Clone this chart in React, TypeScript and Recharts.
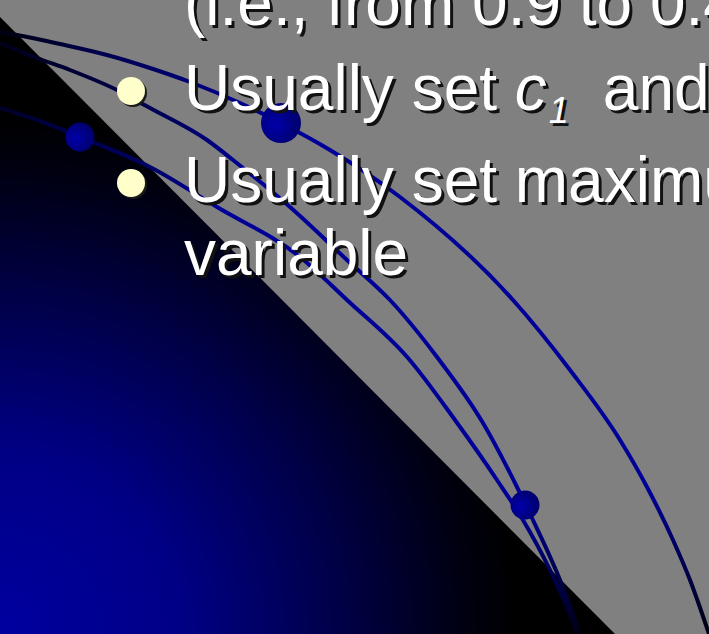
import React from "react";
import { ComposedChart, Line, Area, Scatter, XAxis, YAxis } from "recharts";

const W = 709;
const H = 634;

// lower-left slide corner: diagonal edge of the dark triangle
const cornerEdge = [
  { x: 0, y: 17 },
  { x: 615, y: 634 },
];

// decorative orbit curves (pixel coords, y down)
const curveA = [
  { x: 0, y: 32 },
  { x: 17, y: 35 },
  { x: 60, y: 44 },
  { x: 107, y: 55 },
  { x: 150, y: 68 },
  { x: 190, y: 82 },
  { x: 240, y: 103 },
  { x: 281, y: 123 },
  { x: 330, y: 150 },
  { x: 400, y: 197 },
  { x: 513, y: 300 },
  { x: 570, y: 370 },
  { x: 620, y: 440 },
  { x: 647, y: 487 },
  { x: 673, y: 540 },
  { x: 690, y: 580 },
  { x: 709, y: 634 },
];

const curveB = [
  { x: 0, y: 43 },
  { x: 37, y: 58 },
  { x: 70, y: 70 },
  { x: 117, y: 90 },
  { x: 150, y: 108 },
  { x: 207, y: 140 },
  { x: 233, y: 160 },
  { x: 290, y: 207 },
  { x: 347, y: 260 },
  { x: 390, y: 300 },
  { x: 437, y: 357 },
  { x: 483, y: 423 },
  { x: 517, y: 487 },
  { x: 532, y: 518 },
  { x: 560, y: 580 },
  { x: 580, y: 634 },
];

const curveC = [
  { x: 0, y: 108 },
  { x: 40, y: 121 },
  { x: 80, y: 137 },
  { x: 150, y: 167 },
  { x: 217, y: 207 },
  { x: 300, y: 257 },
  { x: 347, y: 300 },
  { x: 408, y: 358 },
  { x: 455, y: 420 },
  { x: 497, y: 480 },
  { x: 523, y: 520 },
  { x: 550, y: 570 },
  { x: 568, y: 610 },
  { x: 577, y: 634 },
];

const smallDots = [
  { x: 80, y: 137 },
  { x: 525, y: 505 },
];
const bigDot = [{ x: 281, y: 123 }];
const bullets = [
  { x: 131, y: 91 },
  { x: 131, y: 183 },
];

const textStyle: React.CSSProperties = {
  position: "absolute",
  left: 184,
  fontFamily: '"Liberation Sans", Arial, sans-serif',
  fontSize: 64,
  lineHeight: "64px",
  color: "#ffffff",
  textShadow: "3px 3px 0 #111111",
  whiteSpace: "nowrap",
};

const Line1 = "(i.e., from 0.9 to 0.4)";
const Line4 = "variable";

const App = () => {
  // baseline -> top for a 64px line box
  const top = (baseline: number) => baseline - 54;

  return (
    <div
      style={{
        position: "absolute",
        left: 0,
        top: 0,
        width: W,
        height: H,
        overflow: "hidden",
        background: "#808080",
      }}
    >
      <ComposedChart width={W} height={H} margin={{ top: 0, right: 0, bottom: 0, left: 0 }}>
        <defs>
          <radialGradient id="cornerFill" gradientUnits="userSpaceOnUse" cx={0} cy={634} r={520}>
            <stop offset="0" stopColor="#0000a0" />
            <stop offset="0.35" stopColor="#000085" />
            <stop offset="0.65" stopColor="#000048" />
            <stop offset="0.9" stopColor="#000010" />
            <stop offset="1" stopColor="#000000" />
          </radialGradient>
          <linearGradient id="strokeA" gradientUnits="userSpaceOnUse" x1={0} y1={30} x2={709} y2={634}>
            <stop offset="0" stopColor="#000010" />
            <stop offset="0.1" stopColor="#000050" />
            <stop offset="0.28" stopColor="#000098" />
            <stop offset="0.85" stopColor="#000098" />
            <stop offset="0.95" stopColor="#000040" />
            <stop offset="1" stopColor="#000010" />
          </linearGradient>
          <linearGradient id="strokeBC" gradientUnits="userSpaceOnUse" x1={0} y1={40} x2={580} y2={634}>
            <stop offset="0" stopColor="#000018" />
            <stop offset="0.22" stopColor="#000060" />
            <stop offset="0.32" stopColor="#000098" />
            <stop offset="0.84" stopColor="#000098" />
            <stop offset="0.95" stopColor="#000040" />
            <stop offset="1" stopColor="#000010" />
          </linearGradient>
          <radialGradient id="dotFill" cx="35%" cy="55%" r="70%">
            <stop offset="0" stopColor="#0000aa" />
            <stop offset="1" stopColor="#000066" />
          </radialGradient>
        </defs>
        <XAxis type="number" dataKey="x" domain={[0, W]} allowDataOverflow hide />
        <YAxis type="number" dataKey="y" domain={[0, H]} allowDataOverflow reversed hide />

        <Area
          data={cornerEdge}
          dataKey="y"
          type="linear"
          baseValue={H}
          fill="url(#cornerFill)"
          fillOpacity={1}
          stroke="none"
          dot={false}
          activeDot={false}
          isAnimationActive={false}
        />

        <Line data={curveA} dataKey="y" type="monotone" stroke="url(#strokeA)" strokeWidth={4} dot={false} activeDot={false} isAnimationActive={false} />
        <Line data={curveB} dataKey="y" type="monotone" stroke="url(#strokeBC)" strokeWidth={4} dot={false} activeDot={false} isAnimationActive={false} />
        <Line data={curveC} dataKey="y" type="monotone" stroke="url(#strokeBC)" strokeWidth={4} dot={false} activeDot={false} isAnimationActive={false} />

        <Scatter
          data={smallDots}
          isAnimationActive={false}
          shape={(p: any) => <circle cx={p.cx} cy={p.cy} r={14.5} fill="url(#dotFill)" />}
        />
        <Scatter
          data={bigDot}
          isAnimationActive={false}
          shape={(p: any) => <circle cx={p.cx} cy={p.cy} r={20} fill="url(#dotFill)" />}
        />
        <Scatter
          data={bullets}
          isAnimationActive={false}
          shape={(p: any) => (
            <g>
              <circle cx={p.cx + 2} cy={p.cy + 2} r={14} fill="#1a1a1a" />
              <circle cx={p.cx} cy={p.cy} r={14} fill="#ffffcc" />
            </g>
          )}
        />
      </ComposedChart>

      <div style={{ ...textStyle, top: top(25) }}>{Line1}</div>
      <div style={{ ...textStyle, top: top(110) }}>
        Usually set <i>c</i>
        <i style={{ fontSize: 36, position: "relative", top: 13, marginLeft: 2 }}>1</i>
        <span style={{ marginLeft: 34 }}>and c2 to 2</span>
      </div>
      <div style={{ ...textStyle, top: top(202) }}>Usually set maximum velocity to dynamic range of the</div>
      <div style={{ ...textStyle, top: top(275) }}>{Line4}</div>
    </div>
  );
};

export default App;
